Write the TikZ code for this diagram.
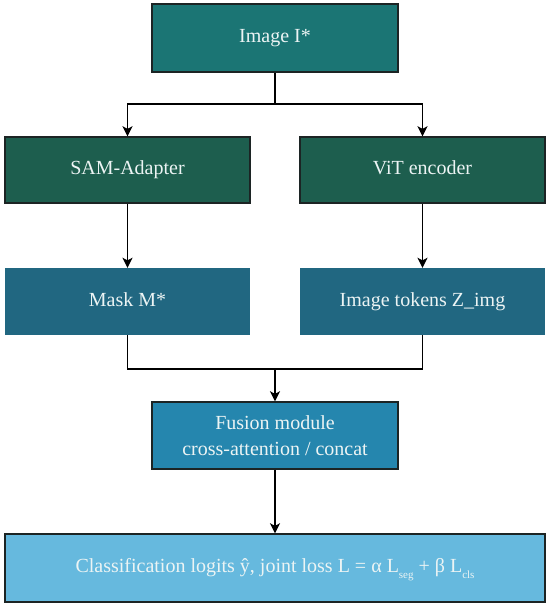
\documentclass[tikz,border=0pt]{standalone}
\usepackage{fontspec}
\setmainfont{Liberation Serif}
\usetikzlibrary{arrows.meta}
\definecolor{ctop}{RGB}{27,117,116}
\definecolor{cgreen}{RGB}{29,94,78}
\definecolor{cmask}{RGB}{33,103,129}
\definecolor{cfus}{RGB}{37,134,174}
\definecolor{cbot}{RGB}{102,185,222}
\definecolor{cedge}{RGB}{28,36,36}
\definecolor{ctext}{RGB}{236,244,244}
\tikzset{
  box/.style={rectangle, inner sep=0pt, text=ctext, align=center,
    font=\fontsize{20}{26.5}\selectfont},
  oneline/.style={text height=14pt, text depth=4.5pt},
  framed/.style={box, draw=cedge, line width=1.4pt},
  arr/.style={line width=1.6pt, draw=black, -{Stealth[length=10pt,width=10pt,inset=2.5pt]}},
  ln/.style={line width=1.6pt, draw=black},
}
\newcommand{\subtxt}[1]{\raisebox{-0.6ex}{\fontsize{11}{11}\selectfont #1}}
\begin{document}
\begin{tikzpicture}[x=1pt,y=-1pt]
\useasboundingbox (0,0) rectangle (550,606);
\node[framed, oneline, fill=ctop, minimum width=246pt, minimum height=68pt] (top) at (275,38) {Image I*};
\node[framed, oneline, fill=cgreen, minimum width=245pt, minimum height=66pt] (sam) at (127.5,170) {SAM-Adapter};
\node[framed, oneline, fill=cgreen, minimum width=245pt, minimum height=66pt] (vit) at (422.5,170) {ViT encoder};
\node[box, oneline, fill=cmask, minimum width=245pt, minimum height=67pt] (mask) at (127.5,301.5) {Mask M*};
\node[box, oneline, fill=cmask, minimum width=245pt, minimum height=67pt] (tok) at (422.5,301.5) {Image tokens Z\_img};
\node[framed, fill=cfus, minimum width=246pt, minimum height=67pt] (fus) at (275,435.5) {Fusion module\\cross-attention / concat};
\node[framed, oneline, fill=cbot, minimum width=540pt, minimum height=68pt] (bot) at (275,568)
  {Classification logits ŷ, joint loss L = α L\subtxt{seg} + β L\subtxt{cls}};
\coordinate (j1) at (275,104);
\coordinate (j2) at (275,369);
\draw[ln] (top.south) -- (j1);
\draw[arr] (j1) -| (sam.north);
\draw[arr] (j1) -| (vit.north);
\draw[arr] (sam.south) -- (mask.north);
\draw[arr] (vit.south) -- (tok.north);
\draw[ln] (mask.south) |- (j2);
\draw[ln] (tok.south) |- (j2);
\draw[arr] (j2) -- (fus.north);
\draw[arr] (fus.south) -- (bot.north);
\end{tikzpicture}
\end{document}
